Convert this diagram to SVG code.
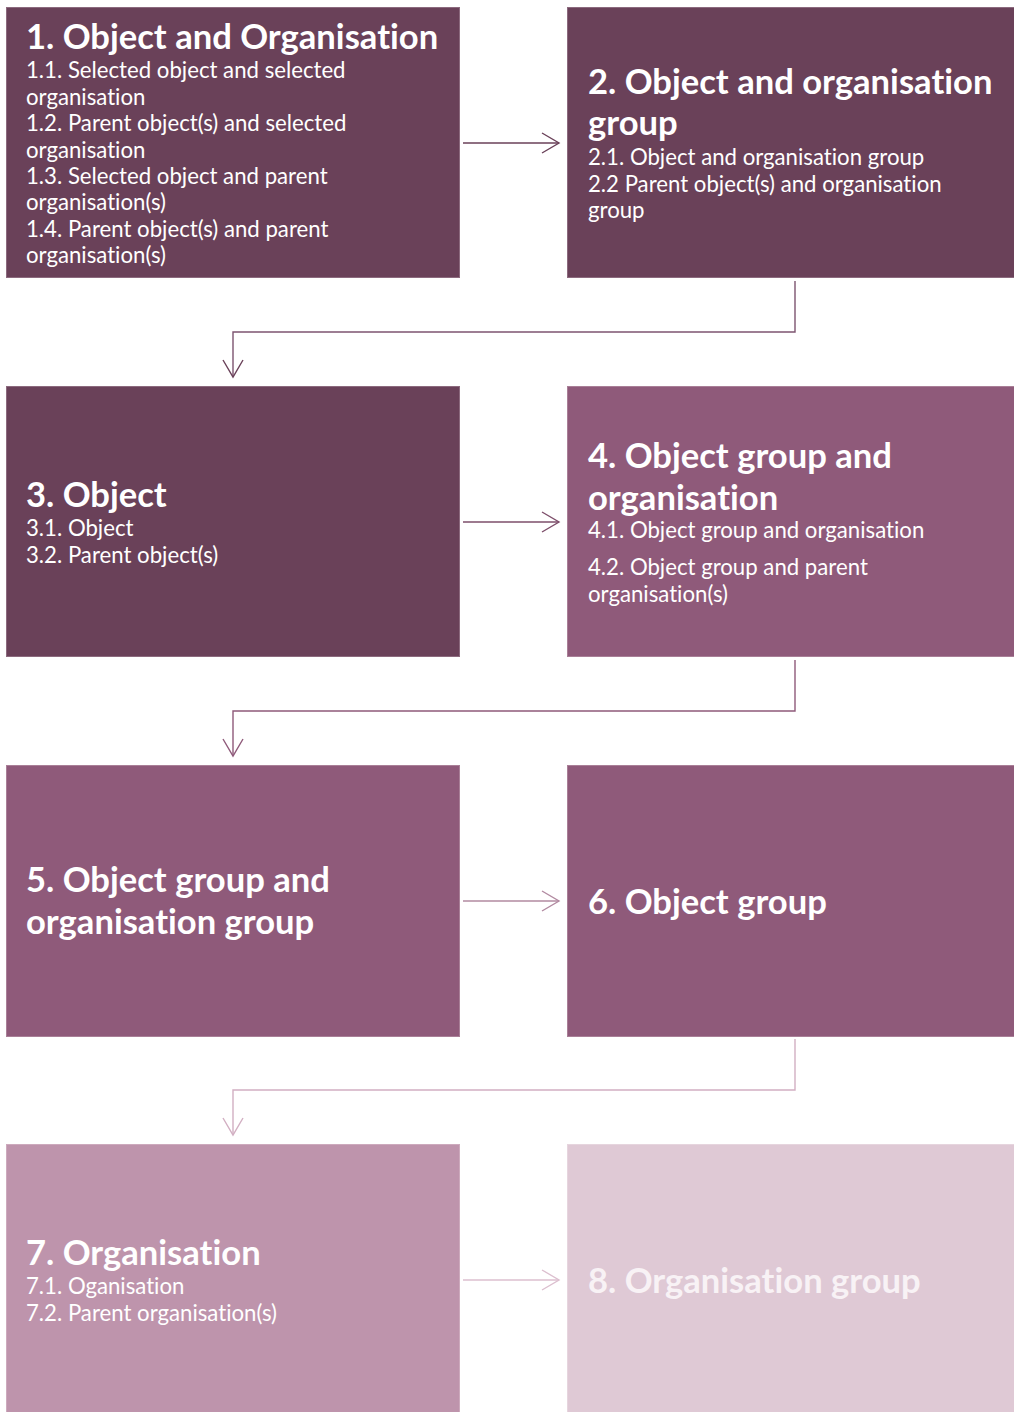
<svg xmlns="http://www.w3.org/2000/svg" width="1014" height="1412" viewBox="0 0 1014 1412">
<style>
text{font-variant-ligatures:none;font-feature-settings:"liga" 0,"clig" 0}
.t{font-family:Lato,"Open Sans","Liberation Sans",sans-serif;font-weight:700;font-size:34.6px;fill:#ffffff}
.s{font-family:Lato,"Open Sans","Liberation Sans",sans-serif;font-weight:400;font-size:22.2px;fill:#ffffff}
.dark{fill:#6a4159;stroke:#8c6a7e;stroke-width:1}
.mid{fill:#8f5a7a;stroke:#a97f97;stroke-width:1}
.light{fill:#be94ac;stroke:#cdaabd;stroke-width:1}
.pale{fill:#dfc9d5;stroke:#e6d5de;stroke-width:1}
.c{fill:none;stroke-width:1.4}
</style>
<defs>
<marker id="a1" viewBox="0 0 20 24" refX="18" refY="12" markerWidth="20" markerHeight="24" markerUnits="userSpaceOnUse" orient="auto"><path d="M1,2 L18,12 L1,22" fill="none" stroke="#6a4159" stroke-width="1.4"/></marker>
<marker id="a2" viewBox="0 0 20 24" refX="18" refY="12" markerWidth="20" markerHeight="24" markerUnits="userSpaceOnUse" orient="auto"><path d="M1,2 L18,12 L1,22" fill="none" stroke="#7d4e6a" stroke-width="1.4"/></marker>
<marker id="a3" viewBox="0 0 20 24" refX="18" refY="12" markerWidth="20" markerHeight="24" markerUnits="userSpaceOnUse" orient="auto"><path d="M1,2 L18,12 L1,22" fill="none" stroke="#8f5a7a" stroke-width="1.4"/></marker>
<marker id="a4" viewBox="0 0 20 24" refX="18" refY="12" markerWidth="20" markerHeight="24" markerUnits="userSpaceOnUse" orient="auto"><path d="M1,2 L18,12 L1,22" fill="none" stroke="#b28aa1" stroke-width="1.4"/></marker>
<marker id="a5" viewBox="0 0 20 24" refX="18" refY="12" markerWidth="20" markerHeight="24" markerUnits="userSpaceOnUse" orient="auto"><path d="M1,2 L18,12 L1,22" fill="none" stroke="#d2afc2" stroke-width="1.4"/></marker>
<marker id="a6" viewBox="0 0 20 24" refX="18" refY="12" markerWidth="20" markerHeight="24" markerUnits="userSpaceOnUse" orient="auto"><path d="M1,2 L18,12 L1,22" fill="none" stroke="#dcbfcf" stroke-width="1.4"/></marker>
</defs>
<rect width="1014" height="1412" fill="#ffffff"/>
<g id="connectors">
<line class="c" x1="463" y1="143" x2="559" y2="143" stroke="#6a4159" marker-end="url(#a1)"/>
<polyline class="c" points="795,281 795,332 233,332 233,377" stroke="#7d5470" marker-end="url(#a1)"/>
<line class="c" x1="463" y1="522" x2="559" y2="522" stroke="#7d4e6a" marker-end="url(#a2)"/>
<polyline class="c" points="795,660 795,711 233,711 233,756" stroke="#8f5a7a" marker-end="url(#a3)"/>
<line class="c" x1="463" y1="901" x2="559" y2="901" stroke="#b28aa1" marker-end="url(#a4)"/>
<polyline class="c" points="795,1039 795,1090 233,1090 233,1135" stroke="#d2afc2" marker-end="url(#a5)"/>
<line class="c" x1="463" y1="1280" x2="559" y2="1280" stroke="#dcbfcf" marker-end="url(#a6)"/>
</g>
<g id="node1">
<rect class="dark" x="6.5" y="7.5" width="453" height="270"/>
<text class="t" x="26" y="49">1. Object and Organisation</text>
<text class="s" x="26" y="78">1.1. Selected object and selected</text>
<text class="s" x="26" y="105">organisation</text>
<text class="s" x="26" y="131">1.2. Parent object(s) and selected</text>
<text class="s" x="26" y="158">organisation</text>
<text class="s" x="26" y="184">1.3. Selected object and parent</text>
<text class="s" x="26" y="210">organisation(s)</text>
<text class="s" x="26" y="237">1.4. Parent object(s) and parent</text>
<text class="s" x="26" y="263">organisation(s)</text>
</g>
<g id="node2">
<rect class="dark" x="567.5" y="7.5" width="447" height="270"/>
<text class="t" x="588" y="94">2. Object and organisation</text>
<text class="t" x="588" y="135">group</text>
<text class="s" x="588" y="165">2.1. Object and organisation group</text>
<text class="s" x="588" y="192">2.2 Parent object(s) and organisation</text>
<text class="s" x="588" y="218">group</text>
</g>
<g id="node3">
<rect class="dark" x="6.5" y="386.5" width="453" height="270"/>
<text class="t" x="26" y="507">3. Object</text>
<text class="s" x="26" y="536">3.1. Object</text>
<text class="s" x="26" y="563">3.2. Parent object(s)</text>
</g>
<g id="node4">
<rect class="mid" x="567.5" y="386.5" width="447" height="270"/>
<text class="t" x="588" y="468">4. Object group and</text>
<text class="t" x="588" y="510">organisation</text>
<text class="s" x="588" y="538">4.1. Object group and organisation</text>
<text class="s" x="588" y="575">4.2. Object group and parent</text>
<text class="s" x="588" y="602">organisation(s)</text>
</g>
<g id="node5">
<rect class="mid" x="6.5" y="765.5" width="453" height="271"/>
<text class="t" x="26" y="892">5. Object group and</text>
<text class="t" x="26" y="934">organisation group</text>
</g>
<g id="node6">
<rect class="mid" x="567.5" y="765.5" width="447" height="271"/>
<text class="t" x="588" y="914">6. Object group</text>
</g>
<g id="node7">
<rect class="light" x="6.5" y="1144.5" width="453" height="270"/>
<text class="t" x="26" y="1265">7. Organisation</text>
<text class="s" x="26" y="1294">7.1. Oganisation</text>
<text class="s" x="26" y="1321">7.2. Parent organisation(s)</text>
</g>
<g id="node8">
<rect class="pale" x="567.5" y="1144.5" width="447" height="270"/>
<text class="t" x="588" y="1293" style="fill:#f8f2f5">8. Organisation group</text>
</g>
</svg>
